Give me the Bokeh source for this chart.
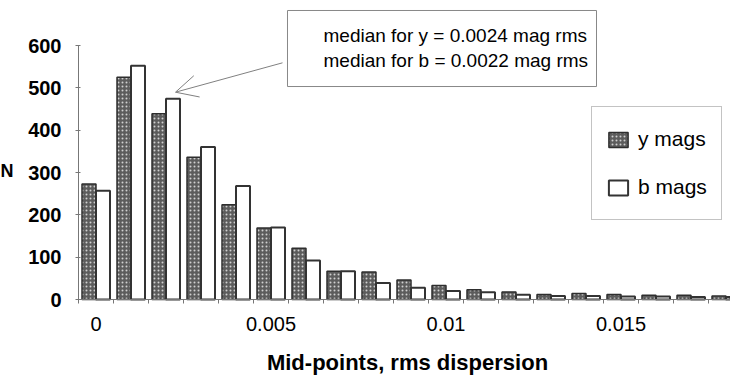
from bokeh.plotting import figure
from bokeh.models import (ColumnDataSource, Range1d, FixedTicker, Legend, LegendItem,
                          BoxAnnotation, Label, Arrow, OpenHead)
from bokeh.transform import dodge
from bokeh.embed import file_html
from bokeh.resources import INLINE

# ---- data ----
bin_mid = [0.000, 0.001, 0.002, 0.003, 0.004, 0.005, 0.006, 0.007, 0.008, 0.009,
           0.010, 0.011, 0.012, 0.013, 0.014, 0.015, 0.016, 0.017, 0.018]
y_mags = [273, 525, 439, 336, 224, 169, 121, 67, 65, 46, 33, 23, 18, 12, 14, 12, 10, 10, 8]
b_mags = [257, 552, 474, 360, 268, 170, 92, 67, 39, 28, 20, 17, 11, 8, 8, 7, 7, 6, 6]
x_tick_values = [0.0, 0.005, 0.01, 0.015]
x_tick_labels = ["0", "0.005", "0.01", "0.015"]
y_tick_values = [0, 100, 200, 300, 400, 500, 600]
median_text = ["median for y = 0.0024 mag rms", "median for b = 0.0022 mag rms"]
series_names = ["y mags", "b mags"]
x_title = "Mid-points, rms dispersion"
y_title = "N"

BIN = 0.001
FONT = "Liberation Sans"
X0 = bin_mid[0] - BIN / 2          # left edge of first bin (where the y axis sits)

src = ColumnDataSource(dict(x=bin_mid, y=y_mags, b=b_mags))

# the frame covers the whole canvas; axes are drawn at fixed locations inside it
p = figure(width=730, height=375, output_backend="svg", toolbar_location=None,
           x_range=Range1d(X0 - 78 / 35 * BIN, X0 + 652 / 35 * BIN),
           y_range=Range1d(-76 * 600 / 254, 299 * 600 / 254),
           min_border=0)
p.outline_line_color = None
p.grid.visible = False
p.background_fill_color = "white"
p.border_fill_color = "white"

ry = p.vbar(x=dodge("x", -0.2 * BIN, range=p.x_range), top="y", width=0.4 * BIN, source=src,
            fill_color="#5c5c5c", hatch_pattern="dot", hatch_color="#d0d0d0",
            hatch_scale=4, hatch_weight=1.2, line_color="#2e2e2e", line_width=1.5)
rb = p.vbar(x=dodge("x", 0.2 * BIN, range=p.x_range), top="b", width=0.4 * BIN, source=src,
            fill_color="white", line_color="#333333", line_width=2)

# axes
xa = p.xaxis[0]
xa.fixed_location = 0
xa.bounds = (X0, p.x_range.end)
xa.ticker = FixedTicker(ticks=x_tick_values,
                        minor_ticks=[m - BIN / 2 for m in bin_mid] + [bin_mid[-1] + BIN / 2])
xa.major_label_overrides = dict(zip(x_tick_values, x_tick_labels))
xa.major_tick_line_color = None
xa.major_tick_out = 4
xa.major_tick_in = 0
xa.minor_tick_out = 4
xa.minor_tick_in = 0
xa.minor_tick_line_color = "#777777"
xa.axis_line_color = "#777777"
xa.major_label_text_font = FONT
xa.major_label_text_font_size = "20px"
xa.major_label_text_color = "black"
xa.major_label_standoff = 13

ya = p.yaxis[0]
ya.fixed_location = X0
ya.ticker = FixedTicker(ticks=y_tick_values, minor_ticks=[])
ya.bounds = (y_tick_values[0], y_tick_values[-1])
ya.major_tick_out = 3
ya.major_tick_in = 2
ya.major_tick_line_color = "#777777"
ya.axis_line_color = "#777777"
ya.major_label_text_font = FONT
ya.major_label_text_font_size = "20px"
ya.major_label_text_font_style = "bold"
ya.major_label_text_color = "black"
ya.major_label_standoff = 14

# axis titles
p.add_layout(Label(x=0.0089, y=-148.8, text=x_title, text_font=FONT, text_font_size="22px",
                   text_font_style="bold", text_align="center", text_baseline="alphabetic",
                   text_color="black"))
p.add_layout(Label(x=-0.002543, y=304.7, text=y_title, text_font=FONT, text_font_size="18px",
                   text_font_style="bold", text_align="center", text_baseline="alphabetic",
                   text_color="black"))

# legend
legend = Legend(items=[LegendItem(label=series_names[0], renderers=[ry]),
                       LegendItem(label=series_names[1], renderers=[rb])],
                location=(591, 375 - 220), padding=14, spacing=12, margin=0,
                glyph_width=24, glyph_height=19, label_height=36, label_standoff=8,
                label_text_font=FONT, label_text_font_size="21px", label_text_color="black",
                border_line_color="#888888", border_line_width=1,
                background_fill_color="white", background_fill_alpha=1)
p.add_layout(legend)

# annotation box with arrow
p.add_layout(BoxAnnotation(left=0.005471, right=0.0143, bottom=503.1, top=682.7,
                           fill_color="white", fill_alpha=1,
                           line_color="#888888", line_width=1, line_alpha=1))
for txt, yy in zip(median_text, [623.6, 564.6]):
    p.add_layout(Label(x=0.0065, y=yy, text=txt, text_font=FONT, text_font_size="19px",
                       text_baseline="middle", text_align="left", text_color="black"))
p.add_layout(Arrow(x_start=0.005329, y_start=559.1, x_end=0.002271, y_end=489.7,
                   line_color="#808080", line_width=1,
                   end=OpenHead(size=22, line_color="#808080", line_width=1)))

open("out.html", "w").write(file_html(p, INLINE))
